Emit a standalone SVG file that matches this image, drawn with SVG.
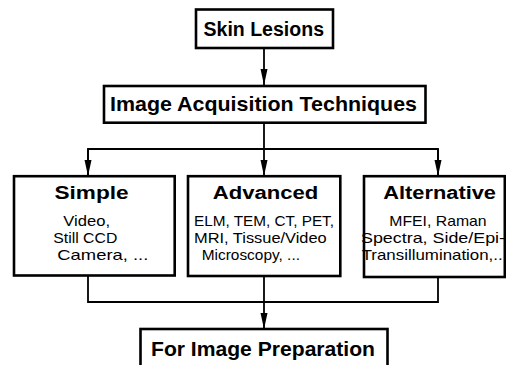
<svg xmlns="http://www.w3.org/2000/svg" width="506" height="365" viewBox="0 0 506 365">
  <style>
    .box { fill: #ffffff; stroke: #000000; stroke-width: 2.6; }
    .wire { fill: none; stroke: #000000; stroke-width: 1.8; }
    .title { font-family: "Liberation Sans", Arial, sans-serif; font-weight: bold; fill: #000000; }
    .body { font-family: "Liberation Sans", Arial, sans-serif; font-size: 15px; fill: #000000; }
  </style>
  <defs>
    <marker id="arrow" viewBox="0 0 16 8" refX="16" refY="4" markerWidth="16" markerHeight="8" markerUnits="userSpaceOnUse" orient="auto">
      <path d="M0,0.5 L16,4 L0,7.5 Z" fill="#000000"/>
    </marker>
  </defs>

  <rect width="506" height="365" fill="#ffffff"/>

  <!-- connectors -->
  <g id="connectors">
    <path class="wire" d="M264,48 V85" marker-end="url(#arrow)"/>
    <path class="wire" d="M264,123 V149"/>
    <path class="wire" d="M88,176 V149 H438 V176" />
    <path class="wire" d="M88,149 V176" marker-end="url(#arrow)"/>
    <path class="wire" d="M264,149 V176" marker-end="url(#arrow)"/>
    <path class="wire" d="M438,149 V176" marker-end="url(#arrow)"/>
    <path class="wire" d="M88,276 V302 H438 V277"/>
    <path class="wire" d="M264,276 V329" marker-end="url(#arrow)"/>
  </g>

  <g id="skin-lesions">
    <rect class="box" x="196" y="9.5" width="137" height="38.5"/>
    <text class="title" x="203.5" y="36" font-size="20" textLength="120.5" lengthAdjust="spacingAndGlyphs">Skin Lesions</text>
  </g>

  <g id="image-acquisition">
    <rect class="box" x="104" y="86" width="321.5" height="36.7"/>
    <text class="title" x="110" y="111" font-size="21" textLength="307" lengthAdjust="spacingAndGlyphs">Image Acquisition Techniques</text>
  </g>

  <g id="simple">
    <rect class="box" x="14" y="176.2" width="160.7" height="99.3"/>
    <text class="title" x="54.5" y="198.5" font-size="18" textLength="74" lengthAdjust="spacingAndGlyphs">Simple</text>
    <text class="body" x="63.3" y="226" textLength="46.7" lengthAdjust="spacingAndGlyphs">Video,</text>
    <text class="body" x="53.3" y="243" textLength="64" lengthAdjust="spacingAndGlyphs">Still CCD</text>
    <text class="body" x="57.3" y="260" textLength="91" lengthAdjust="spacingAndGlyphs">Camera, ...</text>
  </g>

  <g id="advanced">
    <rect class="box" x="188" y="176.2" width="152.3" height="99.8"/>
    <text class="title" x="212.7" y="199" font-size="18" textLength="105.6" lengthAdjust="spacingAndGlyphs">Advanced</text>
    <text class="body" x="194" y="226" textLength="140" lengthAdjust="spacingAndGlyphs">ELM, TEM, CT, PET,</text>
    <text class="body" x="194" y="243" textLength="132.7" lengthAdjust="spacingAndGlyphs">MRI, Tissue/Video</text>
    <text class="body" x="201.7" y="260" textLength="98.3" lengthAdjust="spacingAndGlyphs">Microscopy, ...</text>
  </g>

  <g id="alternative">
    <rect class="box" x="364" y="176.2" width="140.8" height="100.8"/>
    <text class="title" x="383.3" y="199" font-size="18" textLength="112.7" lengthAdjust="spacingAndGlyphs">Alternative</text>
    <text class="body" x="389.3" y="226" textLength="97.3" lengthAdjust="spacingAndGlyphs">MFEI, Raman</text>
    <text class="body" x="361" y="243" textLength="144" lengthAdjust="spacingAndGlyphs">Spectra, Side/Epi-</text>
    <text class="body" x="361.7" y="260" textLength="141" lengthAdjust="spacingAndGlyphs">Transillumination,..</text>
  </g>

  <g id="image-preparation">
    <rect class="box" x="140.5" y="329" width="247" height="50"/>
    <text class="title" x="151" y="356" font-size="20" textLength="224" lengthAdjust="spacingAndGlyphs">For Image Preparation</text>
  </g>
</svg>
